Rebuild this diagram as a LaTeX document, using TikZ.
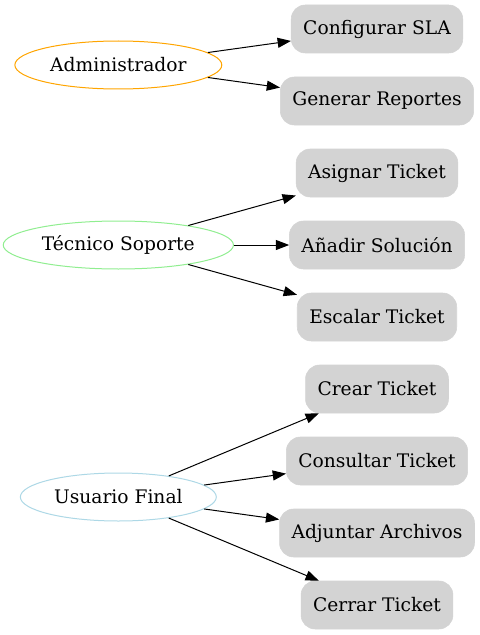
\documentclass[tikz,border=0pt]{standalone}
\usepackage{fontspec}
\setmainfont{DejaVu Serif}
\usetikzlibrary{positioning,arrows.meta,shapes.geometric}
\definecolor{lgray}{RGB}{211,211,211}
\definecolor{lgreen}{RGB}{144,238,144}
\definecolor{lblue}{RGB}{173,216,230}
\definecolor{gvorange}{RGB}{255,165,0}
\tikzstyle{role} = [ellipse, draw, line width=0.75pt, fill=white, minimum height=36pt,
                    inner xsep=3.75pt, inner ysep=0pt, font=\fontsize{14pt}{17pt}\selectfont]
\tikzstyle{task} = [rectangle, rounded corners=10.5pt, draw=lgray, fill=lgray,
                    minimum height=36pt, inner xsep=9pt, inner ysep=0pt,
                    font=\fontsize{14pt}{17pt}\selectfont]
\tikzstyle{link} = [draw, line width=0.75pt, -{Triangle[length=10pt,width=7.5pt]}]

\begin{document}
\begin{tikzpicture}[node distance=54pt]
	\useasboundingbox (0,0) rectangle (359.25pt,-476.25pt);
	% tasks
	\node[task] (cfg) at (282.75pt,-21.75pt) {Configurar SLA};
	\node[task, below of=cfg] (rep) {Generar Reportes};
	\node[task, below of=rep] (asg) {Asignar Ticket};
	\node[task, below of=asg] (sol) {Añadir Solución};
	\node[task, below of=sol] (esc) {Escalar Ticket};
	\node[task, below of=esc] (cre) {Crear Ticket};
	\node[task, below of=cre] (con) {Consultar Ticket};
	\node[task, below of=con] (adj) {Adjuntar Archivos};
	\node[task, below of=adj] (cer) {Cerrar Ticket};
	% roles
	\node[role, draw=gvorange, left of=cfg, node distance=194pt, yshift=-27pt] (adm) {Administrador};
	\node[role, draw=lgreen, left of=sol, node distance=194pt] (tec) {Técnico Soporte};
	\node[role, draw=lblue, left of=con, node distance=194pt, yshift=-27pt] (usr) {Usuario Final};

	\path[link] (adm) -- (cfg);
	\path[link] (adm) -- (rep);
	\path[link] (tec) -- (asg);
	\path[link] (tec) -- (sol);
	\path[link] (tec) -- (esc);
	\path[link] (usr) -- (cre);
	\path[link] (usr) -- (con);
	\path[link] (usr) -- (adj);
	\path[link] (usr) -- (cer);
\end{tikzpicture}
\end{document}
